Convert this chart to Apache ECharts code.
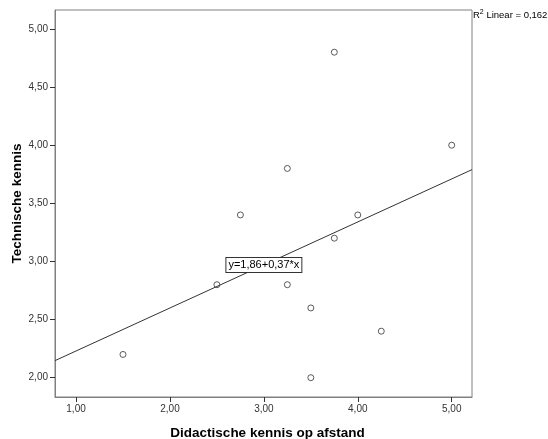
<!DOCTYPE html>
<html>
<head>
<meta charset="utf-8">
<script src="https://cdn.jsdelivr.net/npm/echarts@6/dist/echarts.min.js"></script>
<style>html,body{margin:0;padding:0;background:#fff}#c{width:548px;height:439px}</style>
</head>
<body>
<div id="c"></div>
<script>
// Data
var didactisch = [1.5, 2.5, 2.75, 3.25, 3.25, 3.5, 3.5, 3.75, 3.75, 4.0, 4.25, 5.0];
var technisch  = [2.2, 2.8, 3.4, 3.8, 2.8, 2.6, 2.0, 4.8, 3.2, 3.4, 2.4, 4.0];
var fitLineX = [0.776, 5.216];
var fitLineY = [2.147, 3.79];
var xTicks = [1, 2, 3, 4, 5];
var yTicks = [2.0, 2.5, 3.0, 3.5, 4.0, 4.5, 5.0];
var xRange = [0.776, 5.216];
var yRange = [1.834, 5.163];
var fitLabel = 'y=1,86+0,37*x';
var fitLabelPos = [3.0, 2.97];
var r2Text = '0,162';

var pts = didactisch.map(function (x, i) { return [x, technisch[i]]; });
var line = fitLineX.map(function (x, i) { return [x, fitLineY[i]]; });
function fmt(v) { return v.toFixed(2).replace('.', ','); }

var chart = echarts.init(document.getElementById('c'), null, {renderer: 'canvas'});
chart.setOption({
  animation: false,
  textStyle: {fontFamily: 'Liberation Sans, Arial, sans-serif'},
  grid: {left: 55, top: 10, right: 76, bottom: 42, outerBoundsMode: 'none', containLabel: false,
         show: true, borderColor: '#808080', borderWidth: 1, backgroundColor: '#fff'},
  xAxis: {
    type: 'value', min: xRange[0], max: xRange[1],
    name: 'Didactische kennis op afstand', nameLocation: 'middle', nameGap: 29,
    nameMoveOverlap: false,
    nameTextStyle: {fontSize: 13.5, fontWeight: 'bold', color: '#000', padding: [0, 0, 0, 8]},
    axisLine: {show: true, onZero: false, lineStyle: {color: '#808080'}},
    axisTick: {show: true, length: 5, lineStyle: {color: '#333'}, customValues: xTicks},
    axisLabel: {fontSize: 10, color: '#333', margin: 7, formatter: fmt, customValues: xTicks},
    splitLine: {show: false}
  },
  yAxis: {
    type: 'value', min: yRange[0], max: yRange[1],
    name: 'Technische kennis', nameLocation: 'middle', nameGap: 31,
    nameMoveOverlap: false,
    nameTextStyle: {fontSize: 13.5, fontWeight: 'bold', color: '#000'},
    axisLine: {show: true, onZero: false, lineStyle: {color: '#808080'}},
    axisTick: {show: true, length: 5, lineStyle: {color: '#333'}, customValues: yTicks},
    axisLabel: {fontSize: 10, color: '#333', margin: 7, formatter: fmt, customValues: yTicks},
    splitLine: {show: false}
  },
  series: [
    {
      type: 'line', data: line, symbol: 'none', silent: true,
      lineStyle: {color: '#333', width: 1},
      markPoint: {
        symbol: 'rect', symbolSize: 1, itemStyle: {color: 'transparent'},
        data: [{coord: fitLabelPos}],
        label: {
          show: true, position: 'inside', formatter: fitLabel,
          fontSize: 11, color: '#000', backgroundColor: '#fff',
          borderColor: '#333', borderWidth: 1, padding: [2, 2, 1, 2]
        }
      }
    },
    {
      type: 'scatter', data: pts, symbol: 'circle', symbolSize: 6,
      itemStyle: {color: '#fff', borderColor: '#333', borderWidth: 1}
    }
  ],
  graphic: [{
    type: 'text', left: 473, top: 9,
    style: {
      text: '{t|R}{s|2}{t| Linear = ' + r2Text + '}',
      rich: {
        t: {fontSize: 9.5, fill: '#000', fontFamily: 'Liberation Sans, Arial, sans-serif', verticalAlign: 'bottom', lineHeight: 11},
        s: {fontSize: 7, fill: '#000', fontFamily: 'Liberation Sans, Arial, sans-serif', verticalAlign: 'top', lineHeight: 11}
      }
    }
  }]
});
</script>
</body>
</html>
